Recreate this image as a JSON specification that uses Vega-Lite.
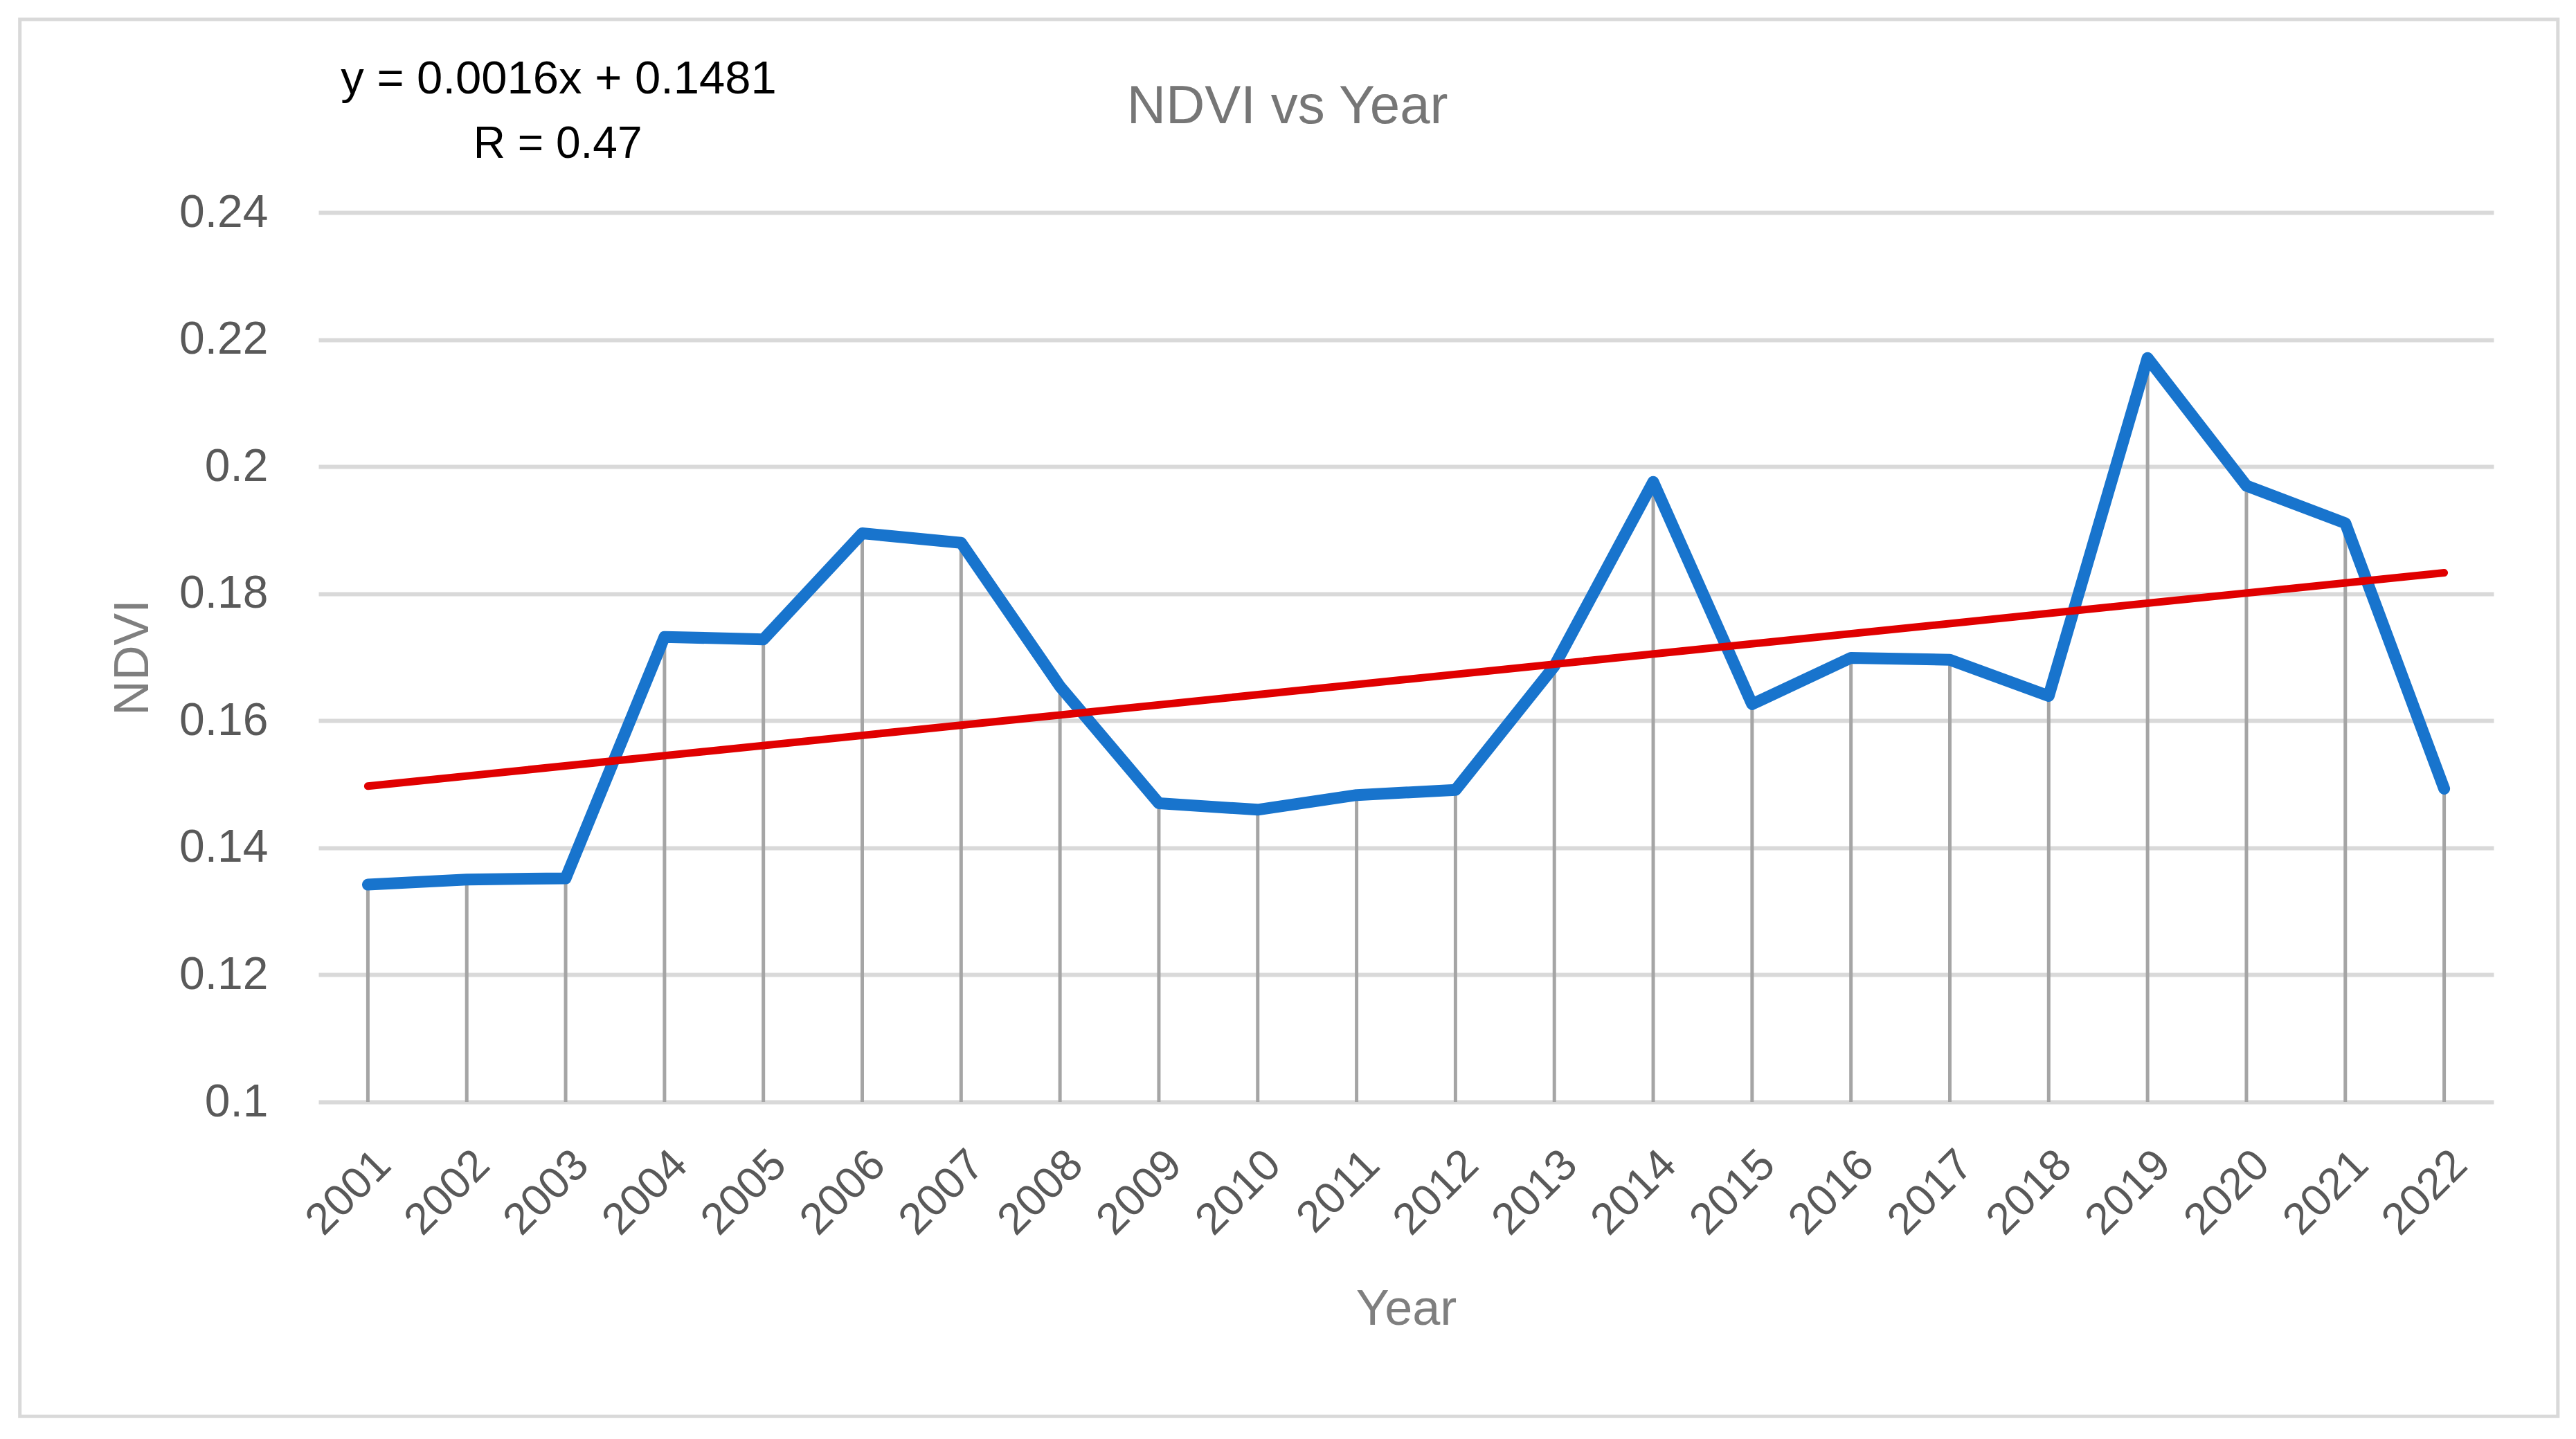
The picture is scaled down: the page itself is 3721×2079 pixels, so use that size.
{
  "$schema": "https://vega.github.io/schema/vega-lite/v6.json",
  "autosize": "none",
  "width": 3142,
  "height": 1285,
  "padding": {"left": 460, "top": 307, "right": 119, "bottom": 487},
  "background": "white",
  "config": {
    "view": {"stroke": null},
    "font": "Liberation Sans"
  },
  "datasets": {
    "ndvi": [
      {"Year": 2001, "NDVI": 0.1342},
      {"Year": 2002, "NDVI": 0.1350},
      {"Year": 2003, "NDVI": 0.1352},
      {"Year": 2004, "NDVI": 0.1732},
      {"Year": 2005, "NDVI": 0.1728},
      {"Year": 2006, "NDVI": 0.1895},
      {"Year": 2007, "NDVI": 0.1880},
      {"Year": 2008, "NDVI": 0.1654},
      {"Year": 2009, "NDVI": 0.1470},
      {"Year": 2010, "NDVI": 0.1460},
      {"Year": 2011, "NDVI": 0.1483},
      {"Year": 2012, "NDVI": 0.1491},
      {"Year": 2013, "NDVI": 0.1686},
      {"Year": 2014, "NDVI": 0.1976},
      {"Year": 2015, "NDVI": 0.1626},
      {"Year": 2016, "NDVI": 0.1699},
      {"Year": 2017, "NDVI": 0.1696},
      {"Year": 2018, "NDVI": 0.1639},
      {"Year": 2019, "NDVI": 0.2171},
      {"Year": 2020, "NDVI": 0.1970},
      {"Year": 2021, "NDVI": 0.1911},
      {"Year": 2022, "NDVI": 0.1493}
    ],
    "trend": [
      {"Year": 2001, "Trend": 0.1497},
      {"Year": 2022, "Trend": 0.1833}
    ]
  },
  "layer": [
    {
      "data": {"values": [{}]},
      "mark": {"type": "rect", "fill": null, "stroke": "#D9D9D9", "strokeWidth": 5},
      "encoding": {
        "x": {"datum": 1997.48, "type": "quantitative"},
        "x2": {"datum": 2023.15},
        "y": {"datum": 0.2704, "type": "quantitative"},
        "y2": {"datum": 0.0505}
      }
    },
    {
      "data": {"name": "ndvi"},
      "mark": {"type": "rule", "color": "#A5A5A5", "strokeWidth": 5},
      "encoding": {
        "x": {
          "field": "Year",
          "type": "quantitative",
          "scale": {"domain": [2000.5, 2022.5], "nice": false, "zero": false},
          "axis": {
            "title": "Year",
            "values": [2001, 2002, 2003, 2004, 2005, 2006, 2007, 2008, 2009, 2010, 2011, 2012, 2013, 2014, 2015, 2016, 2017, 2018, 2019, 2020, 2021, 2022],
            "format": "d",
            "labelAngle": -45,
            "labelFontSize": 64,
            "labelColor": "#595959",
            "labelPadding": 58,
            "labelOverlap": false,
            "labelFlush": false,
            "grid": false,
            "ticks": false,
            "tickSize": 0,
            "domain": false,
            "titleFontSize": 72,
            "titleFontWeight": "normal",
            "titleColor": "#7F7F7F",
            "titlePadding": 64
          }
        },
        "y": {
          "field": "NDVI",
          "type": "quantitative",
          "scale": {"domain": [0.1, 0.24], "nice": false, "zero": false},
          "axis": {
            "title": "NDVI",
            "values": [0.1, 0.12, 0.14, 0.16, 0.18, 0.2, 0.22, 0.24],
            "format": "~g",
            "labelFontSize": 66,
            "labelColor": "#595959",
            "labelPadding": 73,
            "grid": true,
            "gridColor": "#D9D9D9",
            "gridWidth": 6,
            "ticks": false,
            "tickSize": 0,
            "domain": false,
            "titleFontSize": 70,
            "titleFontWeight": "normal",
            "titleColor": "#7F7F7F",
            "titlePadding": 32
          }
        },
        "y2": {"datum": 0.1}
      }
    },
    {
      "data": {"name": "ndvi"},
      "mark": {"type": "line", "color": "#1874CD", "strokeWidth": 17, "strokeJoin": "round", "strokeCap": "round"},
      "encoding": {
        "x": {"field": "Year", "type": "quantitative"},
        "y": {"field": "NDVI", "type": "quantitative"}
      }
    },
    {
      "data": {"name": "trend"},
      "mark": {"type": "line", "color": "#E00000", "strokeWidth": 11, "strokeCap": "round"},
      "encoding": {
        "x": {"field": "Year", "type": "quantitative"},
        "y": {"field": "Trend", "type": "quantitative"}
      }
    },
    {
      "data": {"values": [{}]},
      "mark": {"type": "text", "text": "NDVI vs Year", "fontSize": 78, "color": "#767676", "align": "center", "baseline": "alphabetic"},
      "encoding": {
        "x": {"datum": 2010.3, "type": "quantitative"},
        "y": {"datum": 0.2541, "type": "quantitative"}
      }
    },
    {
      "data": {"values": [{}]},
      "mark": {"type": "text", "text": "y = 0.0016x + 0.1481", "fontSize": 67, "color": "#000000", "align": "center", "baseline": "alphabetic"},
      "encoding": {
        "x": {"datum": 2002.93, "type": "quantitative"},
        "y": {"datum": 0.25875, "type": "quantitative"}
      }
    },
    {
      "data": {"values": [{}]},
      "mark": {"type": "text", "text": "R = 0.47", "fontSize": 64, "color": "#000000", "align": "center", "baseline": "alphabetic"},
      "encoding": {
        "x": {"datum": 2002.92, "type": "quantitative"},
        "y": {"datum": 0.2486, "type": "quantitative"}
      }
    }
  ]
}
